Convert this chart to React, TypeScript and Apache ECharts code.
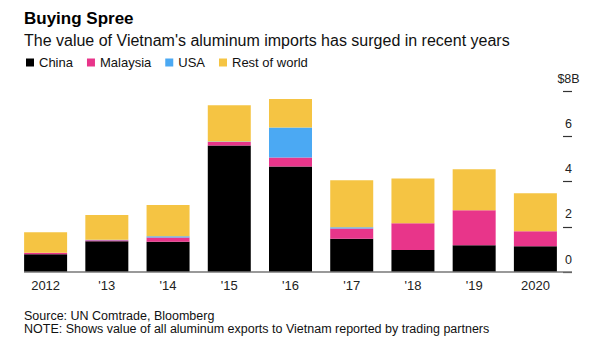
import React, { useEffect, useRef } from "react";
import * as echarts from "echarts";

const years = ["2012", "'13", "'14", "'15", "'16", "'17", "'18", "'19", "2020"];
const china = [0.78, 1.36, 1.34, 5.59, 4.66, 1.47, 0.97, 1.18, 1.14];
const malaysia = [0.07, 0.04, 0.19, 0.16, 0.4, 0.45, 1.18, 1.55, 0.66];
const usa = [0.0, 0.03, 0.05, 0.02, 1.33, 0.06, 0.0, 0.0, 0.0];
const restOfWorld = [0.91, 1.09, 1.38, 1.6, 1.26, 2.08, 1.98, 1.81, 1.68];
const seriesNames = ["China", "Malaysia", "USA", "Rest of world"];
const colors = ["#000000", "#E8358A", "#4BA9F3", "#F5C443"];
const yTicks = { min: 0, max: 8, interval: 2 };

const FONT = "Liberation Sans, Arial, Helvetica, sans-serif";

export default function App() {
  const ref = useRef<HTMLDivElement>(null);
  useEffect(() => {
    if (!ref.current) return;
    const chart = echarts.init(ref.current, null, { renderer: "svg" });
    const data = [china, malaysia, usa, restOfWorld];
    chart.setOption({
      animation: false,
      textStyle: { fontFamily: FONT },
      title: [
        {
          text: "Buying Spree",
          left: 24,
          top: 10,
          padding: 0,
          textStyle: { fontSize: 17, fontWeight: "bold", color: "#000", fontFamily: FONT },
        },
        {
          text: "The value of Vietnam's aluminum imports has surged in recent years",
          left: 24,
          top: 32,
          padding: 0,
          textStyle: { fontSize: 16, fontWeight: "normal", color: "#111", fontFamily: FONT },
        },
        {
          text: "Source: UN Comtrade, Bloomberg",
          left: 24,
          top: 310,
          padding: 0,
          textStyle: { fontSize: 12.5, lineHeight: 12, fontWeight: "normal", color: "#111", fontFamily: FONT },
        },
        {
          text: "NOTE: Shows value of all aluminum exports to Vietnam reported by trading partners",
          left: 24,
          top: 322.5,
          padding: 0,
          textStyle: { fontSize: 12.5, lineHeight: 12, fontWeight: "normal", color: "#111", fontFamily: FONT },
        },
      ],
      legend: {
        left: 26,
        top: 56,
        padding: 0,
        icon: "rect",
        itemWidth: 8,
        itemHeight: 8,
        itemGap: 14,
        textStyle: { fontSize: 13, color: "#111", fontFamily: FONT, padding: [0, 0, 0, 0] },
        data: seriesNames,
      },
      grid: { left: 15, right: 34, top: 91, bottom: 81, containLabel: false },
      xAxis: {
        type: "category",
        data: years,
        axisLine: { show: false },
        axisTick: { show: false },
        axisLabel: { fontSize: 13, color: "#222", margin: 7, fontFamily: FONT },
      },
      yAxis: {
        type: "value",
        position: "right",
        offset: -3,
        min: yTicks.min,
        max: yTicks.max,
        interval: yTicks.interval,
        splitLine: { show: false },
        axisLine: { show: false },
        axisTick: {
          show: true,
          inside: false,
          length: 9,
          lineStyle: { color: "#333", width: 1.2 },
        },
        axisLabel: {
          margin: 5.5,
          align: "center",
          verticalAlign: "bottom",
          padding: [0, 0, 6, 0],
          fontSize: 12.5,
          color: "#222",
          fontFamily: FONT,
          formatter: (v: number) => (v === 8 ? "$8B" : String(v)),
        },
      },
      series: seriesNames.map((name, i) => ({
        name,
        type: "bar",
        stack: "total",
        barWidth: 43,
        itemStyle: { color: colors[i] },
        data: data[i],
      })),
    });
    const y0 = chart.convertToPixel({ yAxisIndex: 0 }, 0) as number;
    chart.setOption({
      graphic: [
        {
          type: "line",
          shape: { x1: 24, y1: y0, x2: 572, y2: y0 },
          style: { stroke: "#777", lineWidth: 1.5 },
          z: 10,
        },
      ],
    });
    return () => chart.dispose();
  }, []);
  return <div ref={ref} style={{ width: 600, height: 353, margin: -8 }} />;
}
